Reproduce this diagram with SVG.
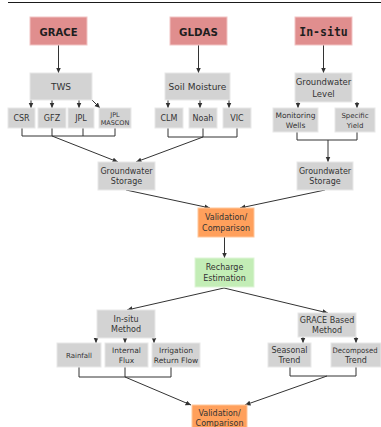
<svg xmlns="http://www.w3.org/2000/svg" width="381" height="427" viewBox="0 0 381 427">
<defs>
<marker id="ah" markerUnits="userSpaceOnUse" markerWidth="6" markerHeight="6" refX="5.5" refY="2.5" orient="auto">
<path d="M0,0 L5.5,2.5 L0,5 z" fill="#333"/>
</marker>
<style>
text{font-family:"DejaVu Sans",Verdana,sans-serif;fill:#333;text-anchor:middle}
.src rect{fill:#e08e8e;stroke:#f2c4c4;stroke-width:1}
.src text{font-weight:bold;fill:#1e1e1e}
.g rect{fill:#d3d3d3;stroke:#e8e8e8;stroke-width:1}
.o rect{fill:#ffa05c;stroke:#ffc79c;stroke-width:1}
.gr rect{fill:#c3edb6;stroke:#dff5d8;stroke-width:1}
.c path,.c line{stroke:#333;stroke-width:1;fill:none}
.a{marker-end:url(#ah)}
</style>
</defs>
<rect width="381" height="427" fill="#fff"/>
<line x1="8" y1="2.5" x2="381" y2="2.5" stroke="#1a1a1a" stroke-width="1"/>

<g class="c" id="connectors">
<line class="a" x1="58.5" y1="45" x2="58.5" y2="73"/>
<line class="a" x1="198.5" y1="45" x2="198.5" y2="73"/>
<line class="a" x1="323.5" y1="45" x2="323.5" y2="73"/>
<line class="a" x1="31" y1="100" x2="31" y2="108"/>
<line class="a" x1="52" y1="100" x2="52" y2="108"/>
<line class="a" x1="79" y1="100" x2="79" y2="108"/>
<line class="a" x1="92" y1="100" x2="100" y2="108"/>
<line class="a" x1="168" y1="100" x2="168" y2="108"/>
<line class="a" x1="200" y1="100" x2="200" y2="108"/>
<line class="a" x1="229" y1="100" x2="229" y2="108"/>
<line class="a" x1="298" y1="102" x2="298" y2="108"/>
<line class="a" x1="357" y1="102" x2="357" y2="108"/>
<path d="M22,128 V136 H115 V128 M52,128 V136 M83,128 V136"/>
<line class="a" x1="52" y1="136" x2="118" y2="162"/>
<path d="M168,128 V137 H237 V128 M203,128 V137"/>
<line class="a" x1="203" y1="137" x2="136" y2="162"/>
<path d="M297,132 V140 H357 V132"/>
<line class="a" x1="328" y1="140" x2="328" y2="162"/>
<line class="a" x1="126" y1="190" x2="210" y2="208"/>
<line class="a" x1="325" y1="190" x2="240" y2="208"/>
<line class="a" x1="224.5" y1="237" x2="224.5" y2="258"/>
<line class="a" x1="224" y1="288" x2="127" y2="310"/>
<line class="a" x1="224" y1="288" x2="328" y2="313"/>
<line class="a" x1="96" y1="338" x2="96" y2="343"/>
<line class="a" x1="125" y1="338" x2="125" y2="343"/>
<line class="a" x1="154" y1="338" x2="154" y2="343"/>
<path d="M79,367 V377 H171 V367 M125,367 V377"/>
<line class="a" x1="125" y1="377" x2="191" y2="405"/>
<line class="a" x1="303" y1="337" x2="303" y2="343"/>
<line class="a" x1="356" y1="337" x2="356" y2="343"/>
<path d="M290,367 V376 H356 V367"/>
<line class="a" x1="327" y1="376" x2="245" y2="405"/>
</g>

<g id="grace" class="src"><rect x="30" y="17" width="57" height="28"/><text x="58.5" y="35.5" font-size="11" textLength="38" lengthAdjust="spacingAndGlyphs">GRACE</text></g>
<g id="gldas" class="src"><rect x="170" y="17" width="57" height="28"/><text x="198.5" y="35.5" font-size="11" textLength="39" lengthAdjust="spacingAndGlyphs">GLDAS</text></g>
<g id="insitu" class="src"><rect x="295" y="17" width="57" height="28"/><text x="323.5" y="35.5" font-size="11.5" style="font-family:'DejaVu Sans Mono','Liberation Mono',monospace">In-situ</text></g>

<g id="tws" class="g"><rect x="30" y="73" width="62" height="27"/><text x="61" y="90" font-size="9">TWS</text></g>
<g id="soil" class="g"><rect x="165" y="73" width="65" height="27"/><text x="197.5" y="90" font-size="9">Soil Moisture</text></g>
<g id="gwl" class="g"><rect x="295" y="73" width="57" height="29"/><text x="323.5" y="85" font-size="8.5">Groundwater</text><text x="323.5" y="97" font-size="8.5">Level</text></g>

<g id="csr" class="g"><rect x="8" y="108" width="27" height="20"/><text x="21.5" y="121" font-size="8">CSR</text></g>
<g id="gfz" class="g"><rect x="38" y="108" width="28" height="20"/><text x="52" y="121" font-size="8">GFZ</text></g>
<g id="jpl" class="g"><rect x="68" y="108" width="26" height="20"/><text x="81" y="121" font-size="8">JPL</text></g>
<g id="mascon" class="g"><rect x="99" y="108" width="32" height="20"/><text x="115" y="116.5" font-size="6.5">JPL</text><text x="115" y="125" font-size="6.5">MASCON</text></g>
<g id="clm" class="g"><rect x="155" y="108" width="28" height="20"/><text x="169" y="121" font-size="8">CLM</text></g>
<g id="noah" class="g"><rect x="189" y="108" width="28" height="20"/><text x="203" y="121" font-size="8">Noah</text></g>
<g id="vic" class="g"><rect x="223" y="108" width="28" height="20"/><text x="237" y="121" font-size="8">VIC</text></g>
<g id="wells" class="g"><rect x="273" y="108" width="45" height="24"/><text x="295.5" y="117.5" font-size="7.5">Monitoring</text><text x="295.5" y="128" font-size="7.5">Wells</text></g>
<g id="sy" class="g"><rect x="335" y="108" width="40" height="24"/><text x="355" y="118" font-size="7">Specific</text><text x="355" y="128" font-size="7">Yield</text></g>

<g id="gws1" class="g"><rect x="98" y="162" width="57" height="28"/><text x="126.5" y="173.5" font-size="8">Groundwater</text><text x="126.5" y="184" font-size="8">Storage</text></g>
<g id="gws2" class="g"><rect x="297" y="162" width="56" height="28"/><text x="325" y="173.5" font-size="8">Groundwater</text><text x="325" y="184" font-size="8">Storage</text></g>

<g id="valid1" class="o"><rect x="198" y="208" width="56" height="29"/><text x="226" y="220" font-size="8">Validation/</text><text x="226" y="230.5" font-size="8">Comparison</text></g>
<g id="recharge" class="gr"><rect x="195" y="258" width="59" height="29"/><text x="224.5" y="270" font-size="8">Recharge</text><text x="224.5" y="280.5" font-size="8">Estimation</text></g>

<g id="insitum" class="g"><rect x="97" y="310" width="58" height="28"/><text x="126" y="321.5" font-size="8">In-situ</text><text x="126" y="332" font-size="8">Method</text></g>
<g id="rain" class="g"><rect x="57" y="343" width="44" height="24"/><text x="79" y="358" font-size="7">Rainfall</text></g>
<g id="flux" class="g"><rect x="105" y="343" width="43" height="24"/><text x="126.5" y="353" font-size="7.5">Internal</text><text x="126.5" y="363" font-size="7.5">Flux</text></g>
<g id="irr" class="g"><rect x="152" y="343" width="48" height="24"/><text x="176" y="353" font-size="7.5">Irrigation</text><text x="176" y="363" font-size="7.5">Return Flow</text></g>

<g id="gracem" class="g"><rect x="298" y="313" width="58" height="24"/><text x="327" y="323" font-size="8">GRACE Based</text><text x="327" y="333" font-size="8">Method</text></g>
<g id="seasonal" class="g"><rect x="268" y="343" width="43" height="24"/><text x="289.5" y="353" font-size="8">Seasonal</text><text x="289.5" y="363" font-size="8">Trend</text></g>
<g id="decomp" class="g"><rect x="331" y="343" width="50" height="24"/><text x="332.5" y="352.5" font-size="7.5" style="text-anchor:start" textLength="45" lengthAdjust="spacingAndGlyphs">Decomposed</text><text x="356" y="362.5" font-size="8">Trend</text></g>

<g id="valid2" class="o"><rect x="192" y="405" width="55" height="30"/><text x="219.5" y="416" font-size="8">Validation/</text><text x="219.5" y="426" font-size="8">Comparison</text></g>
</svg>
